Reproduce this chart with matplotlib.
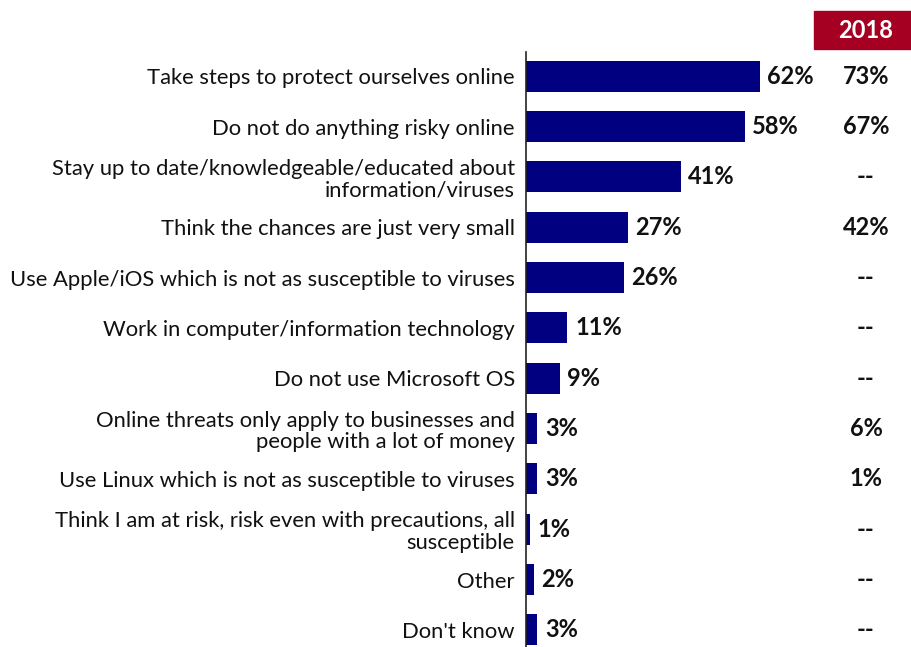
import matplotlib.pyplot as plt
from matplotlib.patches import Rectangle

plt.rcParams['font.family'] = ['Lato', 'DejaVu Sans']

# Reasons for not worrying about online threats
reasons = [
    "Take steps to protect ourselves online",
    "Do not do anything risky online",
    "Stay up to date/knowledgeable/educated about\ninformation/viruses",
    "Think the chances are just very small",
    "Use Apple/iOS which is not as susceptible to viruses",
    "Work in computer/information technology",
    "Do not use Microsoft OS",
    "Online threats only apply to businesses and\npeople with a lot of money",
    "Use Linux which is not as susceptible to viruses",
    "Think I am at risk, risk even with precautions, all\nsusceptible",
    "Other",
    "Don't know",
]
pct_current = [62, 58, 41, 27, 26, 11, 9, 3, 3, 1, 2, 3]
pct_2018 = ["73%", "67%", "--", "42%", "--", "--", "--", "6%", "1%", "--", "--", "--"]

navy = "#000080"
maroon = "#A50021"

fig = plt.figure(figsize=(9.12, 6.47), dpi=100)
ax = fig.add_axes([526 / 912, 0, 386 / 912, 595 / 647])

pos = list(range(len(reasons)))
ax.barh(pos, pct_current, height=0.62, color=navy)
ax.set_xlim(0, 102.4)
ax.set_ylim(11.34, -0.48)

ax.set_yticks(pos)
ax.set_yticklabels(reasons, fontsize=15.8, color="#111111",
                   linespacing=1.1)
ax.tick_params(axis="y", length=0, pad=8)
ax.set_xticks([])
for s in ["top", "right", "bottom"]:
    ax.spines[s].set_visible(False)
ax.spines["left"].set_color("#222222")
ax.spines["left"].set_linewidth(1.2)

for p, v in zip(pos, pct_current):
    ax.text(v + 2.0, p, f"{v}%", va="center", ha="left",
            fontsize=17, fontweight="bold", color="#111111")

# 2018 comparison column
col_x = 866 / 912
for p, lab in zip(pos, pct_2018):
    y = ax.transData.transform((0, p))[1]
    fig.text(col_x, fig.transFigure.inverted().transform((0, y))[1], lab,
             ha="center", va="center", fontsize=17, fontweight="bold",
             color="#111111")

fig.patches.append(Rectangle((814 / 912, 1 - 49 / 647), 98 / 912, 38 / 647,
                             transform=fig.transFigure, color=maroon))
fig.text(866 / 912, 1 - 31 / 647, "2018", ha="center", va="center",
         fontsize=17, fontweight="bold", color="white")

fig.savefig("out.png", dpi=100)
